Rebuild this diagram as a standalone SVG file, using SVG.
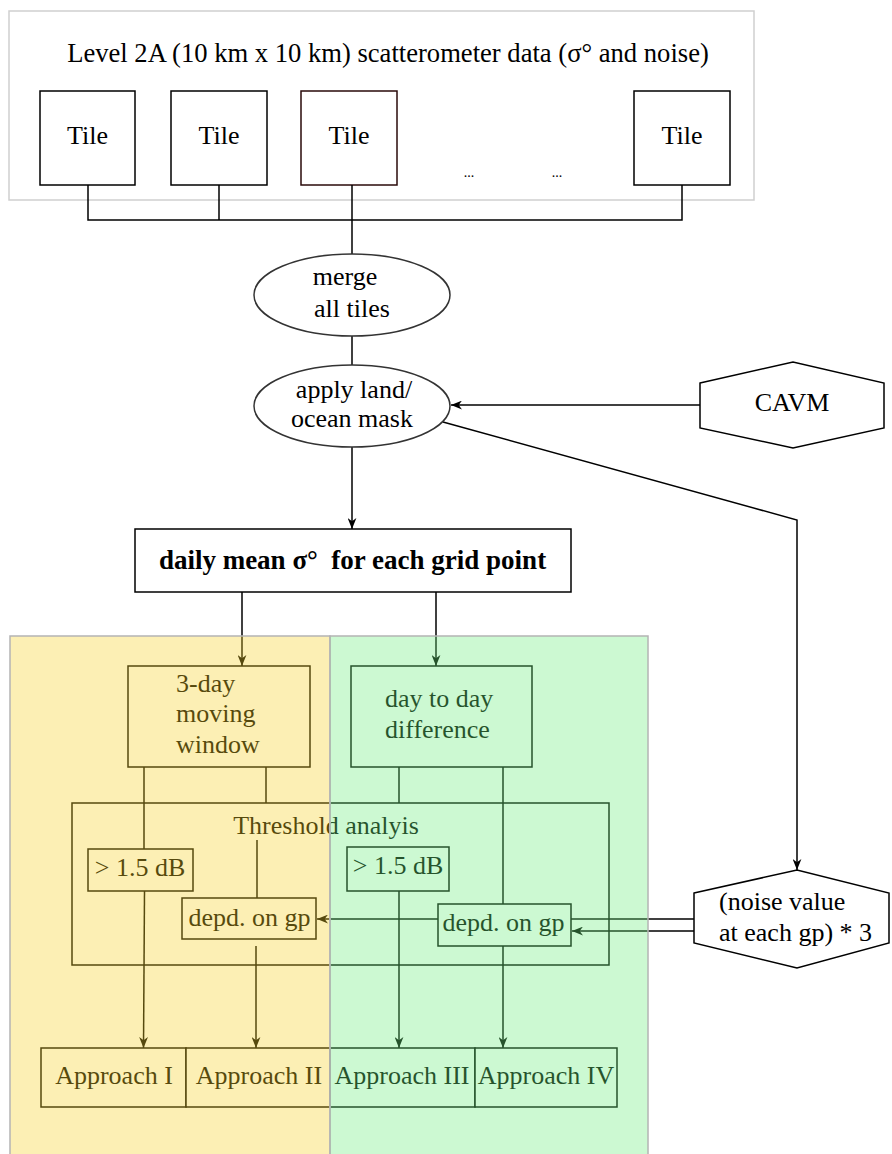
<svg xmlns="http://www.w3.org/2000/svg" width="892" height="1154" viewBox="0 0 892 1154">
<style>
text{font-family:"Liberation Serif","Times New Roman",serif;font-size:26px;fill:#000}
.c{text-anchor:middle}
.s{text-anchor:start}
.box{fill:#fff;stroke:#000;stroke-width:1.5}
.ibox{fill:none;stroke:#000;stroke-width:1.5}
.ln{fill:none;stroke:#000;stroke-width:1.5}
.arr{marker-end:url(#ah)}
.pan{stroke:#b4b4b4;stroke-width:1.5}
</style>
<defs>
<marker id="ah" viewBox="0 0 10 8" refX="10" refY="4" markerWidth="11" markerHeight="9" markerUnits="userSpaceOnUse" orient="auto">
<path d="M0,0 L10,4 L0,8 L3,4 z" fill="#000"/>
</marker>
</defs>
<rect width="892" height="1154" fill="#fff"/>

<g id="container">
<rect x="9" y="11" width="745" height="189" fill="#fff" stroke="#cfcfcf" stroke-width="1.5"/>
<text class="c" x="388" y="62" style="font-size:26.6px">Level 2A (10 km x 10 km) scatterometer data (σ° and noise)</text>
</g>
<g id="tile1"><rect class="box" x="40" y="91" width="95" height="94"/><text class="c" x="87.5" y="144">Tile</text></g>
<g id="tile2"><rect class="box" x="171" y="91" width="96" height="94"/><text class="c" x="219" y="144">Tile</text></g>
<g id="tile3"><rect class="box" x="301" y="91" width="96" height="94" style="stroke:#2a0a0a"/><text class="c" x="349" y="144">Tile</text></g>
<g id="tile4"><rect class="box" x="634" y="91" width="96" height="94"/><text class="c" x="682" y="144">Tile</text></g>
<g id="dots"><text class="c" x="469" y="177" style="font-size:14px">...</text><text class="c" x="557" y="177" style="font-size:14px">...</text></g>

<g id="connectors">
<path class="ln" d="M88,185 V220 H682 V185"/>
<path class="ln" d="M219,185 V220"/>
<path class="ln" d="M352,185 V254"/>
<path class="ln" d="M352,336 V365"/>
<path class="ln arr" d="M700,405 H451"/>
<path class="ln arr" d="M352,447 V529"/>
<path class="ln arr" d="M443,422 L797,520 V870"/>
<path class="ln arr" d="M242,592 V666"/>
<path class="ln arr" d="M436,592 V666"/>
<path class="ln" d="M144,767 V849"/>
<path class="ln" d="M266,767 V803"/>
<path class="ln" d="M257,840 V898"/>
<path class="ln" d="M399,767 V803"/>
<path class="ln" d="M503,767 V904"/>
<path class="ln arr" d="M144.5,891 L143.5,1048"/>
<path class="ln arr" d="M256,946 V1048"/>
<path class="ln arr" d="M399,891 V1048"/>
<path class="ln arr" d="M503,946 V1048"/>
<path class="ln arr" d="M694,919 H317"/>
<path class="ln arr" d="M694,931 H572"/>
</g>

<g id="merge"><ellipse cx="352" cy="295" rx="98" ry="41" fill="#fff" stroke="#333" stroke-width="1.5"/><text class="c" x="345" y="285">merge</text><text class="c" x="352" y="317">all tiles</text></g>
<g id="mask"><ellipse cx="352" cy="406" rx="98" ry="41" fill="#fff" stroke="#333" stroke-width="1.5"/><text class="c" x="354" y="398">apply land/</text><text class="c" x="352" y="427">ocean mask</text></g>
<g id="cavm"><polygon class="box" points="700,383 793,362 884,383 884,428 793,448 700,428"/><text class="c" x="792" y="411">CAVM</text></g>
<g id="daily"><rect class="box" x="135" y="529" width="436" height="63"/><text class="c" x="352.5" y="569" style="font-weight:bold;font-size:27px">daily mean σ°&#160; for each grid point</text></g>

<g id="moving"><rect class="box" x="128" y="666" width="182" height="101"/><text class="s" x="176" y="692">3-day</text><text class="s" x="176" y="722">moving</text><text class="s" x="176" y="753">window</text></g>
<g id="diff"><rect class="box" x="351" y="666" width="181" height="101"/><text class="s" x="385" y="707">day to day</text><text class="s" x="385" y="738">difference</text></g>
<g id="threshold"><rect class="ibox" x="72" y="803" width="537" height="162"/><text class="c" x="326" y="834">Threshold analyis</text></g>
<g id="thr1"><rect class="box" x="88" y="849" width="105" height="42"/><text class="c" x="140" y="876">&gt; 1.5 dB</text></g>
<g id="dep1"><rect class="box" x="182" y="898" width="134" height="41"/><text class="c" x="249.5" y="926">depd. on gp</text></g>
<g id="thr2"><rect class="box" x="347" y="847" width="102" height="44"/><text class="c" x="398" y="874">&gt; 1.5 dB</text></g>
<g id="dep2"><rect class="box" x="438" y="904" width="133" height="42"/><text class="c" x="503.5" y="931">depd. on gp</text></g>
<g id="noise"><polygon class="box" points="694,893 797,870 889,893 889,943 797,968 694,943"/><text class="s" x="719" y="910">(noise value</text><text class="s" x="719" y="941">at each gp) * 3</text></g>

<g id="approaches">
<rect class="box" x="41" y="1048" width="145" height="59"/><text class="c" x="114" y="1084">Approach I</text>
<rect class="box" x="186" y="1048" width="144" height="59"/><text class="c" x="259" y="1084">Approach II</text>
<rect class="box" x="330" y="1048" width="145" height="59"/><text class="c" x="402" y="1084">Approach III</text>
<rect class="box" x="475" y="1048" width="142" height="59"/><text class="c" x="546" y="1084">Approach IV</text>
</g>

<g id="panels">
<rect class="pan" x="10" y="636" width="320" height="540" fill="rgb(246,209,40)" fill-opacity="0.35"/>
<rect class="pan" x="330" y="636" width="318" height="540" fill="rgb(109,237,126)" fill-opacity="0.35"/>
</g>
</svg>
